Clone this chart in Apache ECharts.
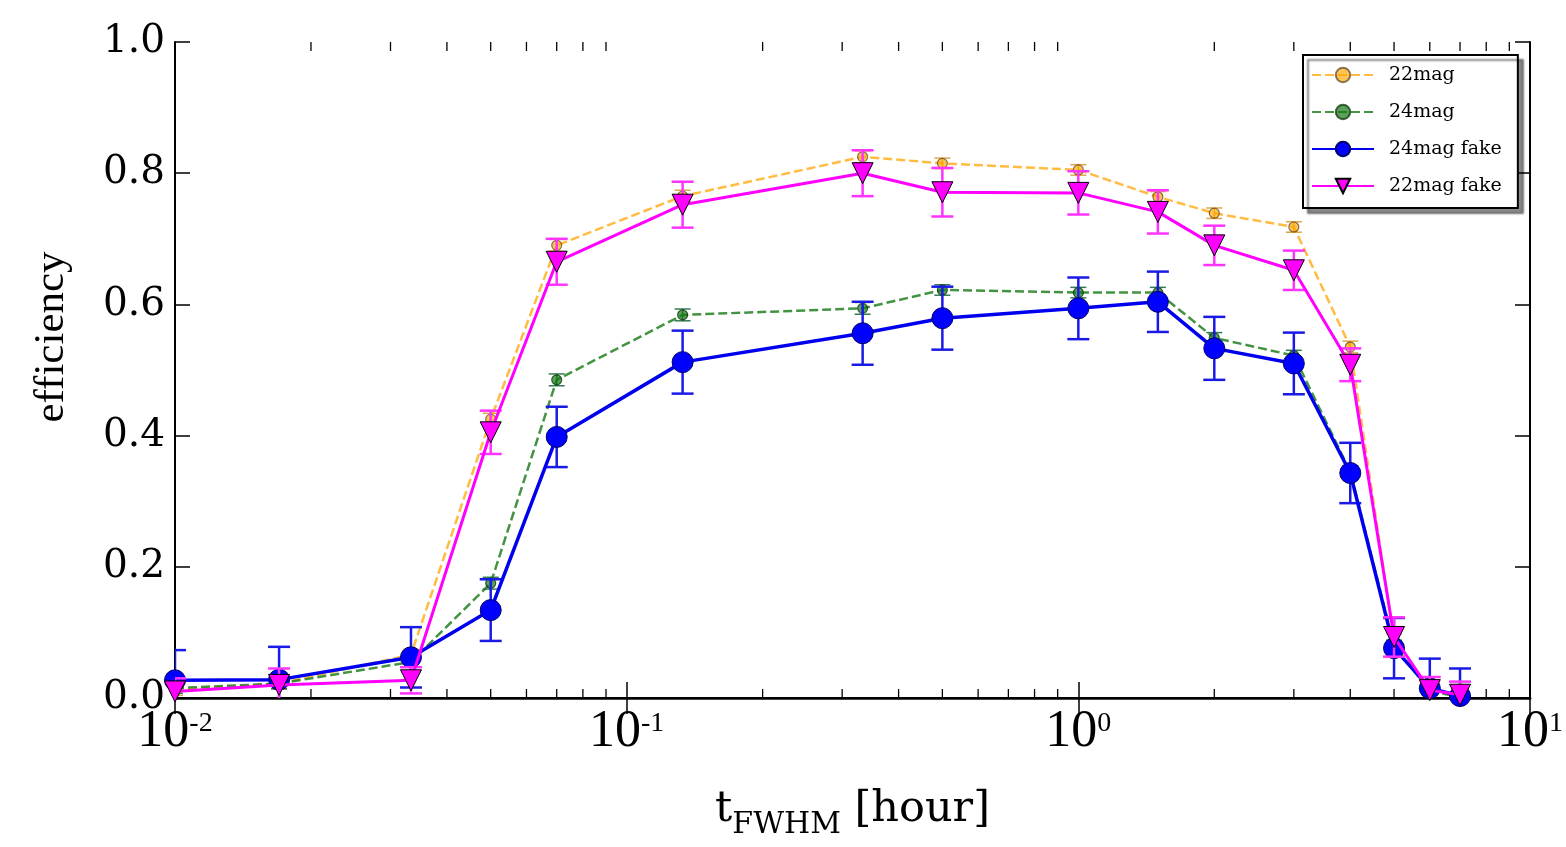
<!DOCTYPE html>
<html>
<head>
<meta charset="utf-8">
<script src="https://cdn.jsdelivr.net/npm/echarts@6/dist/echarts.min.js"></script>
<style>
  html, body { margin: 0; padding: 0; background: #fff; }
  #chart { width: 1566px; height: 847px; }
</style>
</head>
<body>
<div id="chart"></div>
<script>
// Pulse duration (hours) at which detection efficiency was measured
const tHours = [0.01, 0.017, 0.0333, 0.05, 0.07, 0.133, 0.333, 0.5, 1.0, 1.5, 2.0, 3.0, 4.0, 5.0, 6.0, 7.0];

// Efficiencies per magnitude / injection type
const mag22 = [0.012, 0.022, 0.066, 0.425, 0.69, 0.765, 0.825, 0.815, 0.805, 0.764, 0.739, 0.718, 0.535, 0.09, 0.012, 0.003];
const mag22Err = [0.008, 0.008, 0.008, 0.009, 0.009, 0.009, 0.009, 0.008, 0.008, 0.008, 0.008, 0.008, 0.009, 0.008, 0.006, 0.004];
const mag24 = [0.015, 0.022, 0.055, 0.175, 0.485, 0.584, 0.594, 0.622, 0.618, 0.618, 0.549, 0.522, 0.345, 0.08, 0.01, 0.002];
const mag24Err = [0.008, 0.008, 0.008, 0.009, 0.009, 0.009, 0.009, 0.008, 0.008, 0.008, 0.008, 0.008, 0.009, 0.008, 0.006, 0.004];
const fake24 = [0.027, 0.028, 0.062, 0.134, 0.398, 0.512, 0.556, 0.579, 0.594, 0.604, 0.533, 0.51, 0.343, 0.076, 0.015, 0.003];
const fake24Err = [0.046, 0.05, 0.046, 0.047, 0.046, 0.048, 0.048, 0.048, 0.047, 0.046, 0.048, 0.047, 0.046, 0.046, 0.045, 0.042];
const fake22 = [0.01, 0.02, 0.027, 0.405, 0.665, 0.752, 0.80, 0.771, 0.770, 0.741, 0.69, 0.652, 0.508, 0.093, 0.012, 0.005];
const fake22Err = [0.02, 0.025, 0.02, 0.033, 0.035, 0.035, 0.035, 0.037, 0.033, 0.033, 0.03, 0.03, 0.025, 0.03, 0.02, 0.02];

// Axis ticks
const yTicks = [0, 0.2, 0.4, 0.6, 0.8, 1.0];
const xDecades = [0.01, 0.1, 1];
const minorTickValues = [];
xDecades.forEach(d => { for (let k = 2; k <= 9; k++) minorTickValues.push(+(k * d).toPrecision(3)); });

const pairs = ys => tHours.map((t, i) => [t, ys[i]]);
const triples = (ys, es) => tHours.map((t, i) => [t, ys[i], es[i]]);

function errorBars(color, capHalf, lineWidth) {
  return function (params, api) {
    const x = api.value(0), y = api.value(1), e = api.value(2);
    const hi = api.coord([x, y + e]);
    const lo = api.coord([x, y - e]);
    const style = { stroke: color, lineWidth: lineWidth };
    return {
      type: 'group',
      children: [
        { type: 'line', shape: { x1: hi[0], y1: hi[1], x2: lo[0], y2: lo[1] }, style },
        { type: 'line', shape: { x1: hi[0] - capHalf, y1: hi[1], x2: hi[0] + capHalf, y2: hi[1] }, style },
        { type: 'line', shape: { x1: lo[0] - capHalf, y1: lo[1], x2: lo[0] + capHalf, y2: lo[1] }, style }
      ]
    };
  };
}

function minorTicks(params, api) {
  const p = api.coord([api.value(0), 0]);
  const cs = params.coordSys;
  const style = { stroke: '#000', lineWidth: 1.3 };
  const len = 9;
  return {
    type: 'group',
    children: [
      { type: 'line', shape: { x1: p[0], y1: cs.y + cs.height, x2: p[0], y2: cs.y + cs.height - len }, style },
      { type: 'line', shape: { x1: p[0], y1: cs.y, x2: p[0], y2: cs.y + len }, style }
    ]
  };
}

const serif = 'DejaVu Serif';
const times = 'Liberation Serif';

const xLabelFmt = v => {
  const exp = Math.round(Math.log10(v));
  return '{b|10}{s|' + exp + '}';
};

const chart = echarts.init(document.getElementById('chart'), null, { renderer: 'canvas' });

chart.setOption({
  animation: false,
  backgroundColor: '#fff',
  grid: { left: 175, top: 42, right: 34, bottom: 149, containLabel: false },
  legend: {
    data: ['22mag', '24mag', '24mag fake', '22mag fake'],
    orient: 'vertical',
    left: 1303,
    top: 55,
    padding: [10, 16, 12, 8],
    itemWidth: 62,
    itemHeight: 18,
    itemGap: 17,
    backgroundColor: '#fff',
    borderColor: '#000',
    borderWidth: 2,
    borderRadius: 0,
    shadowColor: 'rgba(0,0,0,0.45)',
    shadowBlur: 2,
    shadowOffsetX: 5,
    shadowOffsetY: 5,
    textStyle: { fontFamily: serif, fontSize: 19, color: '#000', lineHeight: 20, padding: [0, 0, 0, 10] }
  },
  xAxis: [
    {
      type: 'log', logBase: 10, min: 0.01, max: 10, position: 'bottom',
      axisLine: { show: true, lineStyle: { color: '#444', width: 3 } },
      axisTick: { show: true, inside: true, length: 16, lineStyle: { color: '#000', width: 1.5 } },
      splitLine: { show: false },
      minorTick: { show: false },
      axisLabel: {
        margin: 8,
        formatter: xLabelFmt,
        rich: {
          b: { fontFamily: times, fontSize: 52, lineHeight: 56, color: '#000', verticalAlign: 'top' },
          s: { fontFamily: times, fontSize: 28, color: '#000', verticalAlign: 'top', padding: [4, 0, 0, 0] }
        }
      },
      name: '{t|t}{s|FWHM}{t| [hour]}',
      nameLocation: 'middle',
      nameGap: 90,
      nameTextStyle: {
        rich: {
          t: { fontFamily: serif, fontSize: 43, lineHeight: 50, color: '#000', verticalAlign: 'top' },
          s: { fontFamily: serif, fontSize: 30, color: '#000', verticalAlign: 'top', padding: [22, 0, 0, 0] }
        }
      }
    },
    {
      type: 'log', logBase: 10, min: 0.01, max: 10, position: 'top',
      axisLine: { show: true, lineStyle: { color: '#000', width: 2 } },
      axisTick: { show: true, inside: true, length: 16, lineStyle: { color: '#000', width: 1.5 } },
      axisLabel: { show: false },
      splitLine: { show: false }
    }
  ],
  yAxis: [
    {
      type: 'value', min: 0, max: 1, interval: 0.2, position: 'left',
      axisLine: { show: true, lineStyle: { color: '#000', width: 2 } },
      axisTick: { show: true, inside: true, length: 15, lineStyle: { color: '#000', width: 1.5 } },
      splitLine: { show: false },
      axisLabel: {
        margin: 10,
        formatter: v => v.toFixed(1),
        fontFamily: serif, fontSize: 39, color: '#000'
      },
      name: 'efficiency',
      nameLocation: 'middle',
      nameGap: 102,
      nameTextStyle: { fontFamily: times, fontSize: 43, color: '#000', padding: [0, 0, 0, 66] }
    },
    {
      type: 'value', min: 0, max: 1, interval: 0.2, position: 'right',
      axisLine: { show: true, lineStyle: { color: '#000', width: 2 } },
      axisTick: { show: true, inside: true, length: 15, lineStyle: { color: '#000', width: 1.5 } },
      axisLabel: { show: false },
      splitLine: { show: false }
    }
  ],
  series: [
    {
      type: 'custom', name: 'minor ticks', silent: true, clip: false, z: 1,
      xAxisIndex: 0, yAxisIndex: 0,
      data: minorTickValues.map(v => [v, 0]),
      renderItem: minorTicks
    },
    {
      type: 'custom', name: '22mag err', silent: true, clip: true, z: 2,
      data: triples(mag22, mag22Err),
      renderItem: errorBars('rgba(205,130,0,0.7)', 8, 1.5)
    },
    {
      name: '22mag', type: 'line', z: 3,
      data: pairs(mag22),
      symbol: 'circle', symbolSize: 10,
      lineStyle: { color: 'rgba(255,165,0,0.75)', width: 2.5, type: [9, 4] },
      itemStyle: { color: 'rgba(255,165,0,0.65)', borderColor: 'rgba(60,40,0,0.6)', borderWidth: 1.2 }
    },
    {
      type: 'custom', name: '24mag err', silent: true, clip: true, z: 4,
      data: triples(mag24, mag24Err),
      renderItem: errorBars('rgba(0,90,40,0.8)', 8, 1.5)
    },
    {
      name: '24mag', type: 'line', z: 5,
      data: pairs(mag24),
      symbol: 'circle', symbolSize: 10,
      lineStyle: { color: 'rgba(20,120,20,0.8)', width: 2.5, type: [9, 4] },
      itemStyle: { color: 'rgba(20,120,20,0.7)', borderColor: 'rgba(0,40,0,0.7)', borderWidth: 1.2 }
    },
    {
      type: 'custom', name: '24mag fake err', silent: true, clip: true, z: 6,
      data: triples(fake24, fake24Err),
      renderItem: errorBars('#1a1ae6', 11, 2.5)
    },
    {
      name: '24mag fake', type: 'line', z: 7,
      data: pairs(fake24),
      symbol: 'circle', symbolSize: 21,
      lineStyle: { color: '#0000ee', width: 3.5 },
      itemStyle: { color: '#0000ff', borderColor: '#000066', borderWidth: 1 }
    },
    {
      type: 'custom', name: '22mag fake err', silent: true, clip: true, z: 8,
      data: triples(fake22, fake22Err),
      renderItem: errorBars('#ff33ff', 11, 2.5)
    },
    {
      name: '22mag fake', type: 'line', z: 9,
      data: pairs(fake22),
      symbol: 'triangle', symbolSize: 21, symbolRotate: 180,
      lineStyle: { color: '#ff00ff', width: 3 },
      itemStyle: { color: '#ff00ff', borderColor: '#000', borderWidth: 1 }
    }
  ]
});
</script>
</body>
</html>
